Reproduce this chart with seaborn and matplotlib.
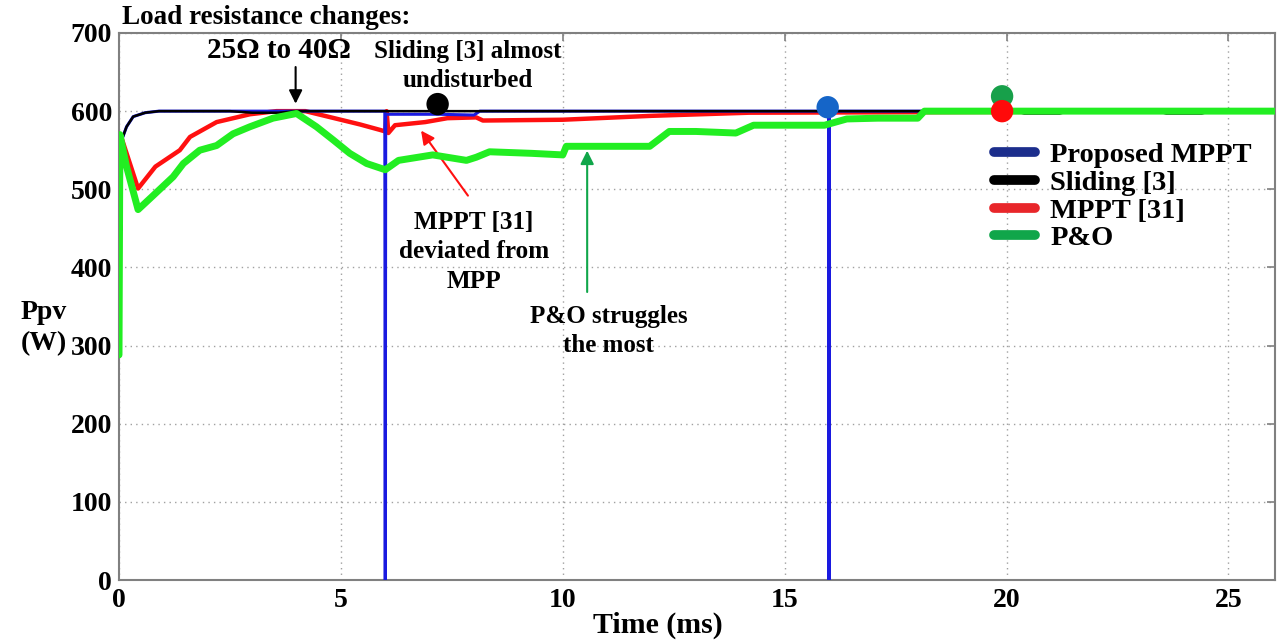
import numpy as np
import pandas as pd
import matplotlib
matplotlib.use("Agg")
import matplotlib.pyplot as plt
import seaborn as sns
from matplotlib.lines import Line2D

# ---------------- data ----------------
black_t = [0.05, 0.06, 0.17, 0.32, 0.59, 0.90, 2.5, 3.0, 3.6, 4.0, 20.2, 20.4, 21.2, 21.4, 23.4, 23.6, 24.4, 24.6, 26.1]
black_p = [448, 563, 580, 593, 598, 600, 600, 598, 598, 600, 600, 597, 597, 600, 600, 597, 597, 600, 600]

blue_t = [0.05, 0.06, 0.17, 0.32, 0.59, 0.90, 5.99, 6.00, 6.01, 7.2, 8.0, 8.13, 15.99, 16.00, 16.01, 26.1]
blue_p = [448, 563, 580, 593, 598, 600, 600, 0, 596, 596, 595, 600, 600, 0, 600, 600]

red_t = [0.05, 0.43, 0.82, 1.37, 1.6, 2.2, 2.95, 3.55, 4.2, 5.43, 5.88, 6.0, 6.03, 6.07, 6.22, 6.9, 7.4, 8.05, 8.2, 10.0, 12.0, 14.2, 26.1]
red_p = [567, 501, 529, 550, 567, 586, 596, 600, 600, 583, 576, 574, 600, 572, 582, 586, 591, 592, 588, 589, 594, 598, 600]

green_t = [0.0, 0.02, 0.17, 0.43, 0.77, 1.07, 1.22, 1.45, 1.82, 2.2, 2.57, 2.95, 3.47, 4.0, 4.45, 4.83,
           5.2, 5.58, 6.0, 6.3, 7.07, 7.83, 8.05, 8.35, 9.3, 10.0, 10.08, 11.96, 12.4, 13.0, 13.9, 14.3,
           15.9, 16.4, 17.1, 18.0, 18.15, 26.1]
green_p = [288, 570, 529, 474, 492, 508, 516, 533, 550, 556, 571, 580, 591, 597, 580, 563,
           546, 533, 525, 537, 544, 537, 541, 548, 546, 544, 555, 555, 574, 574, 572, 582,
           582, 590, 591, 591, 600, 600]

dot_t = [7.18, 15.97, 19.9, 19.9]
dot_p = [609, 605, 619, 600]
dot_colors = ["#000000", "#1565c8", "#17a04a", "#ff0a0a"]

series_names = ["Proposed MPPT", "Sliding [3]", "MPPT [31]", "P&O"]
x_ticks = [0, 5, 10, 15, 20, 25]
y_ticks = [0, 100, 200, 300, 400, 500, 600, 700]

# ---------------- figure ----------------
sns.set_style("white")
plt.rcParams["font.family"] = ["Liberation Serif", "DejaVu Serif"]
plt.rcParams["font.weight"] = "bold"
plt.rcParams["text.color"] = "black"
plt.rcParams["axes.labelcolor"] = "black"

fig = plt.figure(figsize=(12.82, 6.42), dpi=100)
ax = fig.add_axes([119 / 1282, 1 - 580 / 642, (1275 - 119) / 1282, (580 - 33) / 642])

sns.lineplot(x=red_t, y=red_p, ax=ax, color="#ff1010", lw=3.2, estimator=None, sort=False, legend=False, zorder=3)
sns.lineplot(x=blue_t, y=blue_p, ax=ax, color="#1a1ae0", lw=2.2, estimator=None, sort=False, legend=False, zorder=4)
sns.lineplot(x=black_t, y=black_p, ax=ax, color="#000000", lw=1.8, estimator=None, sort=False, legend=False, zorder=5)
sns.lineplot(x=green_t, y=green_p, ax=ax, color="#22ee22", lw=5.0, estimator=None, sort=False, legend=False, zorder=6)

for t, p, c in zip(dot_t, dot_p, dot_colors):
    sns.scatterplot(x=[t], y=[p], ax=ax, color=c, s=260, edgecolor="none", zorder=7, legend=False)

ax.set_xlim(0, 26.05)
ax.set_ylim(0, 700)
ax.set_xticks(x_ticks)
ax.set_yticks(y_ticks)
ax.set_xticklabels([str(v) for v in x_ticks], fontsize=20, fontweight="bold", color="black")
ax.set_yticklabels([str(v) for v in y_ticks], fontsize=20, fontweight="bold", color="black")
ax.tick_params(axis="both", direction="in", length=6, width=1.2, top=True, right=True, color="#808080")
ax.tick_params(axis="x", pad=6)
ax.tick_params(axis="y", pad=5)
ax.grid(True, linestyle=(0, (1, 3)), color="#a0a0a0", lw=1.0)
for s in ax.spines.values():
    s.set_color("#808080")
    s.set_linewidth(1.5)

fig.text(658 / 1282, 1 - 625 / 642, "Time (ms)", fontsize=21.5, fontweight="bold", ha="center", va="center")
fig.text(44 / 1282, 1 - 328 / 642, "Ppv\n(W)", fontsize=20, fontweight="bold", ha="center", va="center",
         linespacing=1.3)

# legend
handles = [Line2D([0], [0], color=c, lw=7, solid_capstyle="round")
           for c in ["#1c2e8c", "#000000", "#e8262a", "#10a64a"]]
ax.legend(handles, series_names, loc="upper left", bbox_to_anchor=(0.757, 0.8), frameon=False,
          prop={"family": "Liberation Serif", "weight": "bold", "size": 20.5},
          handlelength=1.42, handletextpad=0.56, labelspacing=0.06, borderpad=0, borderaxespad=0)

# annotations
fig.text(122 / 1282, 1 - 18 / 642, "Load resistance changes:", fontsize=19.5, fontweight="bold",
         ha="left", va="center")
ax.text(3.6, 677, "25\u03a9 to 40\u03a9", fontsize=21, fontweight="bold", ha="center", va="center")
ax.annotate("", xy=(3.98, 606), xytext=(3.98, 660),
            arrowprops=dict(arrowstyle="-|>", color="black", lw=1.5, mutation_scale=20))
ax.text(7.87, 658, "Sliding [3] almost\nundisturbed", fontsize=18, fontweight="bold", ha="center",
        va="center", linespacing=1.3)
ax.text(8.0, 420, "MPPT [31]\ndeviated from\nMPP", fontsize=18.2, fontweight="bold", ha="center",
        va="center", linespacing=1.35)
ax.annotate("", xy=(6.77, 578), xytext=(7.9, 489),
            arrowprops=dict(arrowstyle="-|>", color="#ff1010", lw=1.5, mutation_scale=20))
ax.text(11.04, 319, "P&O struggles\nthe most", fontsize=18, fontweight="bold", ha="center",
        va="center", linespacing=1.35)
ax.annotate("", xy=(10.55, 553), xytext=(10.55, 365),
            arrowprops=dict(arrowstyle="-|>", color="#10a64a", lw=1.5, mutation_scale=20))

fig.savefig("out.png", dpi=100)
